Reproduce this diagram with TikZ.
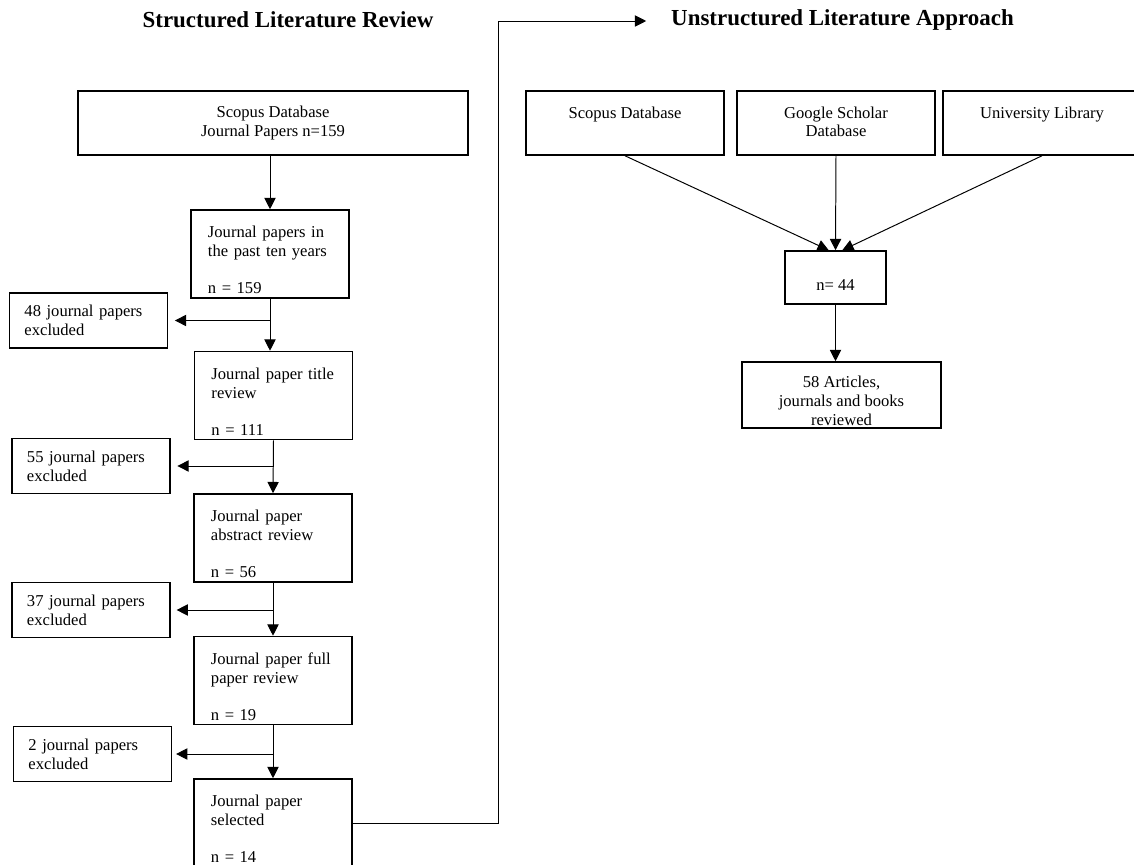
\documentclass[tikz,border=0pt]{standalone}
\usepackage{fontspec}
\setmainfont{Liberation Serif}
\usepackage{tikz}
\usetikzlibrary{arrows.meta,positioning}

\begin{document}
\begin{tikzpicture}[x=0.025cm,y=-0.025cm,
	node font=\fontsize{11.8}{13.3}\selectfont,
	head/.style={font=\fontsize{16.3}{18}\selectfont\bfseries},
	box/.style={draw,line width=1.1pt},
	stage/.style={box,text width=3.1cm,inner xsep=0.425cm,inner ysep=0pt,minimum height=2.2cm,align=left,text height=17pt,text depth=40pt},
	side/.style={box,text width=3.2cm,inner xsep=0.37cm,minimum height=1.37cm,align=left},
	source/.style={box,minimum width=4.95cm,minimum height=1.6cm,align=center,text height=13.3pt,text depth=20.4pt,inner ysep=0pt},
	arr/.style={line width=0.7pt,-{Triangle[length=8pt,width=8pt]}}]
	\useasboundingbox (0,0) rectangle (1134,865);
	\node[head] (t1) at (288,20) {Structured Literature Review};
	\node[head] (t2) at (842.5,20) {Unstructured Literature Approach};

	\node[box,minimum width=9.75cm,minimum height=1.6cm,align=center] (db) at (273,123) {Scopus Database\\Journal Papers n=159};
	\node[stage] (b1) at (270,254) {Journal papers in\\the past ten years\\[\baselineskip]n = 159};
	\node[stage] (b2) at (273.5,395.5) {Journal paper title\\review\\[\baselineskip]n = 111};
	\node[stage] (b3) at (273,538) {Journal paper\\abstract review\\[\baselineskip]n = 56};
	\node[stage] (b4) at (273,680.5) {Journal paper full\\paper review\\[\baselineskip]n = 19};
	\node[stage] (b5) at (273,823) {Journal paper\\selected\\[\baselineskip]n = 14};

	\node[side] (x1) at (88.5,320.5) {48 journal papers\\excluded};
	\node[side] (x2) at (91,466) {55 journal papers\\excluded};
	\node[side] (x3) at (91,610) {37 journal papers\\excluded};
	\node[side] (x4) at (92.5,754) {2 journal papers\\excluded};

	\draw[arr] (b1.north |- db.south) -- (b1.north);
	\draw[arr] (b1.south) -- (b1.south |- b2.north);
	\draw[arr] (b2.south) -- (b3.north);
	\draw[arr] (b3.south) -- (b4.north);
	\draw[arr] (b4.south) -- (b5.north);
	\draw[arr,shorten >=0.17cm] (b1.south |- x1.east) -- (x1.east);
	\draw[arr,shorten >=0.17cm] (b2.south |- x2.east) -- (x2.east);
	\draw[arr,shorten >=0.15cm] (b3.south |- x3.east) -- (x3.east);
	\draw[arr,shorten >=0.1cm] (b4.south |- x4.east) -- (x4.east);

	\coordinate (turn) at (498,21);
	\draw[arr,shorten >=0.48cm] (b5.east) -| (turn) -- (turn -| t2.west);

	\node[source] (s1) at (625,123) {Scopus Database};
	\node[source,text height=26.6pt,text depth=7.1pt] (s2) at (836,123) {Google Scholar\\Database};
	\node[source] (s3) at (1042,123) {University Library};
	\node[box,minimum width=2.525cm,minimum height=1.325cm,text height=18pt,text depth=0pt] (n44) at (835.5,277.5) {n= 44};
	\node[box,minimum width=4.975cm,minimum height=1.65cm,align=center,inner ysep=0pt,text height=43pt,text depth=0pt] (art) at (841.5,395) {58 Articles,\\journals and books\\reviewed};

	\draw[arr] (s1.south) -- ([xshift=-0.17cm]n44.north);
	\draw[arr] (s2.south) -- (n44.north);
	\draw[arr] (s3.south) -- ([xshift=0.17cm]n44.north);
	\draw[arr] (n44.south) -- (n44.south |- art.north);
\end{tikzpicture}
\end{document}
